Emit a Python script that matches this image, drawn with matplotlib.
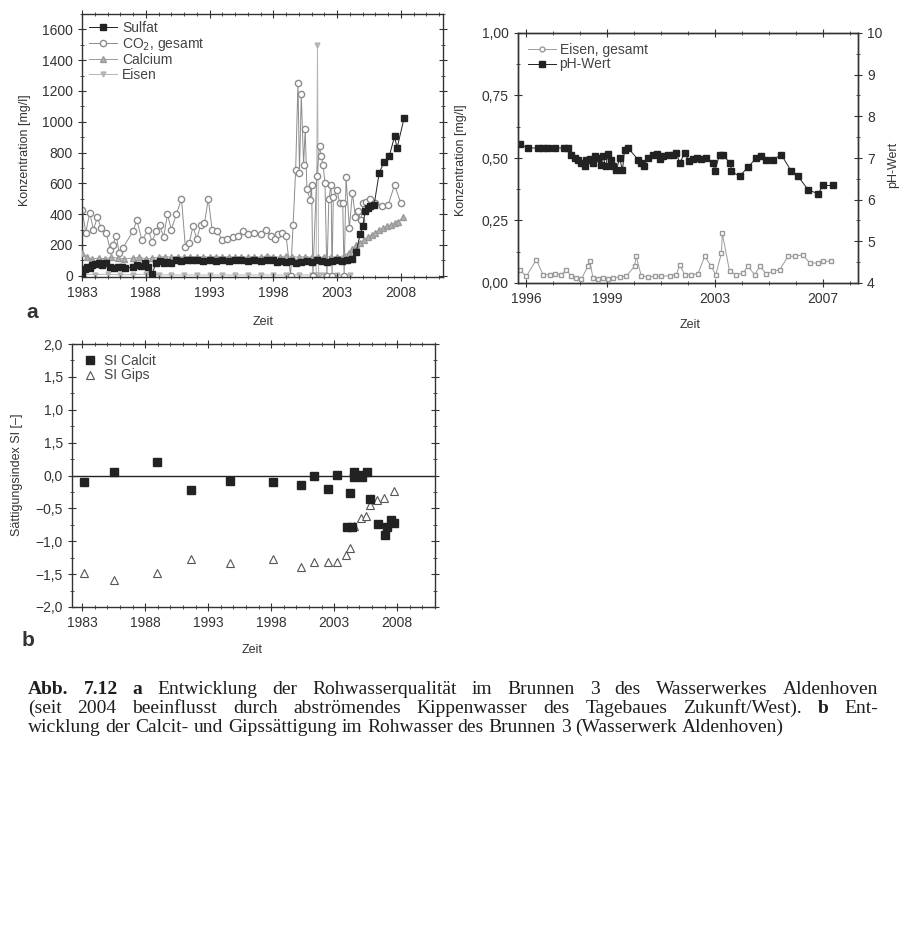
import matplotlib
matplotlib.use('Agg')
import matplotlib.pyplot as plt
from matplotlib.ticker import MultipleLocator

plt.rcParams['font.family'] = ['Liberation Sans', 'DejaVu Sans']

# ---- Bild a: Rohwasserqualitaet Brunnen 3 ----
sulfat_jahr = [1983.0, 1983.2, 1983.4, 1983.6, 1983.8, 1984.0, 1984.3, 1984.6, 1984.9, 1985.2,
               1985.5, 1985.8, 1986.1, 1986.4, 1987.0, 1987.3, 1987.6, 1987.9, 1988.2, 1988.5,
               1988.8, 1989.1, 1989.4, 1989.7, 1990.0, 1990.4, 1990.8, 1991.2, 1991.6, 1992.0,
               1992.5, 1993.0, 1993.5, 1994.0, 1994.5, 1995.0, 1995.5, 1996.0, 1996.5, 1997.0,
               1997.5, 1998.0, 1998.3, 1998.6, 1999.0, 1999.4, 1999.8, 2000.2, 2000.6, 2001.0,
               2001.4, 2001.8, 2002.2, 2002.6, 2003.0, 2003.4, 2003.8, 2004.2, 2004.5, 2004.8,
               2005.0, 2005.2, 2005.4, 2005.6, 2005.9, 2006.3, 2006.7, 2007.1, 2007.5, 2007.7,
               2008.26]
sulfat = [20, 45, 60, 50, 70, 75, 80, 70, 85, 60,
          50, 55, 60, 50, 55, 70, 65, 80, 60, 10,
          85, 95, 80, 90, 85, 100, 95, 100, 105, 100,
          95, 100, 95, 100, 95, 100, 100, 95, 100, 95,
          105, 100, 90, 95, 90, 95, 85, 90, 95, 90,
          100, 95, 90, 95, 100, 95, 105, 110, 155, 270,
          320, 420, 440, 450, 460, 670, 740, 780, 905, 830,
          1027]

co2_jahr = [1983.0, 1983.3, 1983.6, 1983.9, 1984.2, 1984.5, 1984.9, 1985.2, 1985.4, 1985.7,
            1985.9, 1986.2, 1987.0, 1987.3, 1987.7, 1988.2, 1988.5, 1988.8, 1989.1, 1989.4,
            1989.7, 1990.0, 1990.4, 1990.8, 1991.1, 1991.4, 1991.7, 1992.0, 1992.3, 1992.6,
            1992.9, 1993.2, 1993.6, 1994.0, 1994.4, 1994.8, 1995.2, 1995.6, 1996.0, 1996.5,
            1997.0, 1997.4, 1997.8, 1998.1, 1998.4, 1998.7, 1999.0, 1999.35, 1999.55, 1999.75,
            1999.93, 2000.05, 2000.19, 2000.37, 2000.5, 2000.63, 2000.89, 2001.0, 2001.1, 2001.4,
            2001.62, 2001.75, 2001.9, 2002.05, 2002.2, 2002.35, 2002.53, 2002.6, 2002.7, 2003.0,
            2003.2, 2003.44, 2003.55, 2003.7, 2003.96, 2004.2, 2004.43, 2004.65, 2004.85, 2005.05,
            2005.3, 2005.6, 2006.0, 2006.5, 2007.0, 2007.5, 2008.0]
co2 = [430, 280, 410, 300, 380, 310, 280, 170, 200, 260,
       150, 180, 290, 360, 230, 300, 220, 290, 330, 250,
       400, 300, 400, 500, 190, 210, 320, 240, 330, 340,
       500, 300, 290, 230, 240, 250, 260, 290, 270, 280,
       270, 300, 260, 240, 270, 280, 260, 0, 330, 690,
       1255, 670, 1180, 720, 955, 565, 490, 590, 0, 650,
       840, 780, 720, 600, 0, 500, 590, 0, 510, 555,
       470, 470, 0, 640, 310, 540, 380, 420, 360, 470,
       480, 500, 470, 450, 460, 590, 470]

calcium_jahr = [1983.0, 1983.4, 1983.8, 1984.3, 1984.8, 1985.3, 1985.8, 1986.3, 1987.0, 1987.5,
                1988.0, 1988.5, 1989.0, 1989.5, 1990.0, 1990.5, 1991.0, 1991.5, 1992.0, 1992.5,
                1993.0, 1993.5, 1994.0, 1994.5, 1995.0, 1995.5, 1996.0, 1996.5, 1997.0, 1997.5,
                1998.0, 1998.5, 1999.0, 1999.5, 2000.0, 2000.5, 2001.0, 2001.5, 2002.0, 2002.5,
                2003.0, 2003.5, 2003.9, 2004.2, 2004.5, 2004.8, 2005.1, 2005.4, 2005.7, 2006.0,
                2006.3, 2006.6, 2006.9, 2007.2, 2007.5, 2007.8, 2008.2]
calcium = [150, 120, 110, 115, 110, 120, 115, 110, 115, 120,
           110, 115, 120, 125, 120, 125, 120, 125, 120, 125,
           120, 125, 120, 125, 120, 125, 120, 125, 120, 130,
           125, 120, 130, 125, 120, 125, 120, 125, 120, 125,
           120, 130, 150, 175, 200, 215, 230, 250, 265, 280,
           295, 310, 320, 330, 340, 350, 380]

eisen_jahr = [1983.0, 1984.0, 1985.0, 1986.0, 1987.0, 1988.0, 1989.0, 1990.0, 1991.0, 1992.0,
              1993.0, 1994.0, 1995.0, 1996.0, 1997.0, 1998.0, 1999.0, 2000.0, 2001.0, 2001.35,
              2001.46, 2001.55, 2002.0, 2003.0, 2004.0]
eisen = [10, 8, 10, 6, 8, 10, 6, 5, 5, 5,
         5, 5, 5, 5, 5, 5, 5, 5, 5, 5,
         1500, 5, 5, 5, 5]

# ---- Bild rechts: Eisen und pH ----
ph_jahr = [1995.76, 1996.07, 1996.44, 1996.63, 1996.81, 1997.06, 1997.39, 1997.55, 1997.68, 1997.80,
           1997.92, 1998.05, 1998.17, 1998.23, 1998.36, 1998.48, 1998.54, 1998.66, 1998.79, 1998.85,
           1998.95, 1999.04, 1999.16, 1999.22, 1999.34, 1999.47, 1999.57, 1999.65, 1999.78, 2000.15,
           2000.27, 2000.36, 2000.52, 2000.70, 2000.85, 2000.95, 2001.07, 2001.26, 2001.44, 2001.57,
           2001.69, 2001.88, 2002.04, 2002.19, 2002.33, 2002.49, 2002.68, 2002.93, 2002.99, 2003.17,
           2003.30, 2003.57, 2003.61, 2003.91, 2004.22, 2004.53, 2004.72, 2004.90, 2005.15, 2005.46,
           2005.83, 2006.08, 2006.45, 2006.82, 2007.00, 2007.37]
ph = [7.34, 7.24, 7.24, 7.24, 7.24, 7.24, 7.24, 7.24, 7.06, 7.00,
      6.94, 6.88, 6.80, 6.96, 6.98, 6.88, 7.04, 7.00, 6.84, 7.04,
      6.80, 7.10, 6.96, 6.80, 6.70, 7.00, 6.70, 7.20, 7.24, 6.96,
      6.88, 6.80, 7.00, 7.06, 7.10, 6.98, 7.04, 7.06, 7.08, 7.12,
      6.88, 7.12, 6.92, 6.98, 7.00, 6.98, 7.00, 6.88, 6.68, 7.08,
      7.06, 6.88, 6.68, 6.56, 6.78, 7.00, 7.04, 6.96, 6.96, 7.08,
      6.68, 6.56, 6.24, 6.14, 6.34, 6.34]

fe_jahr = [1995.76, 1996.01, 1996.38, 1996.63, 1996.87, 1997.06, 1997.31, 1997.49, 1997.68, 1997.86,
           1998.05, 1998.29, 1998.36, 1998.48, 1998.66, 1998.85, 1999.04, 1999.22, 1999.47, 1999.71,
           2000.02, 2000.08, 2000.27, 2000.52, 2000.76, 2001.01, 2001.32, 2001.57, 2001.69, 2001.88,
           2002.12, 2002.37, 2002.62, 2002.86, 2003.03, 2003.24, 2003.27, 2003.54, 2003.79, 2004.04,
           2004.22, 2004.47, 2004.66, 2004.90, 2005.15, 2005.40, 2005.71, 2005.95, 2006.26, 2006.51,
           2006.82, 2007.00, 2007.31]
fe = [0.053, 0.027, 0.093, 0.033, 0.033, 0.037, 0.033, 0.053, 0.027, 0.020,
      0.016, 0.067, 0.087, 0.020, 0.016, 0.020, 0.016, 0.020, 0.024, 0.027,
      0.067, 0.107, 0.027, 0.024, 0.027, 0.027, 0.029, 0.033, 0.073, 0.033,
      0.033, 0.037, 0.107, 0.067, 0.033, 0.120, 0.200, 0.047, 0.033, 0.040,
      0.067, 0.033, 0.067, 0.037, 0.047, 0.053, 0.107, 0.107, 0.113, 0.080,
      0.080, 0.087, 0.087]

# ---- Bild b: Saettigungsindizes ----
calcit_jahr = [1983.13, 1985.51, 1988.95, 1991.65, 1994.72, 1998.13, 2000.33, 2001.39, 2002.53, 2003.24,
               2004.22, 2004.03, 2004.43, 2004.56, 2004.6, 2004.95, 2005.2, 2005.62, 2005.88, 2006.5,
               2007.07, 2007.47, 2007.73, 2007.2]
calcit = [-0.10, 0.05, 0.21, -0.22, -0.08, -0.10, -0.14, 0.0, -0.20, 0.01,
          -0.27, -0.78, -0.78, 0.05, -0.03, 0.01, -0.02, 0.06, -0.35, -0.74,
          -0.90, -0.68, -0.73, -0.78]
gips_jahr = [1983.13, 1985.51, 1988.95, 1991.65, 1994.72, 1998.13, 2000.33, 2001.39, 2002.53, 2003.24,
             2003.9, 2004.22, 2004.56, 2005.1, 2005.5, 2005.88, 2006.4, 2006.95, 2007.73]
gips = [-1.48, -1.59, -1.48, -1.27, -1.33, -1.27, -1.39, -1.31, -1.31, -1.31,
        -1.21, -1.10, -0.77, -0.65, -0.62, -0.45, -0.37, -0.34, -0.24]

jahre_a = [1983, 1988, 1993, 1998, 2003, 2008]
jahre_fe = [1996, 1999, 2003, 2007]
fe_ticks = ['0,00', '0,25', '0,50', '0,75', '1,00']
si_ticks = ['\u22122,0', '\u22121,5', '\u22121,0', '\u22120,5', '0,0', '1,5', '1,0', '1,5', '2,0']

INK = '#333333'
fig = plt.figure(figsize=(9.03, 9.31), dpi=100, facecolor='white')


def px_axes(l, t, r, b):
    return fig.add_axes([l / 903, 1 - b / 931, (r - l) / 903, (b - t) / 931])


def ftext(x, y, s, **kw):
    kw.setdefault('color', INK)
    return fig.text(x / 903, 1 - y / 931, s, **kw)


def style(ax, right=True):
    for s in ax.spines.values():
        s.set_linewidth(1.0)
        s.set_color(INK)
    ax.tick_params(which='both', direction='inout', colors=INK, labelsize=10,
                   top=True, right=right)
    ax.tick_params(which='major', length=6)
    ax.tick_params(which='minor', length=3)


# Bild a
ax_a = px_axes(82, 14, 443, 277)
ax_a.plot(eisen_jahr, eisen, '-v', color='#b5b5b5', lw=0.7, ms=3.5, mfc='#b5b5b5', label='Eisen', zorder=1)
ax_a.plot(co2_jahr, co2, '-o', color='#8c8c8c', lw=0.7, ms=4.5, mfc='white', label='CO$_2$, gesamt', zorder=2)
ax_a.plot(calcium_jahr, calcium, '-^', color='#9a9a9a', lw=0.7, ms=4, mfc='#b0b0b0', label='Calcium', zorder=3)
ax_a.plot(sulfat_jahr, sulfat, '-s', color='#222222', lw=0.7, ms=4, label='Sulfat', zorder=4)
ax_a.set_xlim(1983, 2011.3)
ax_a.set_ylim(-8, 1700)
ax_a.set_xticks(jahre_a)
ax_a.set_xticklabels([str(j) for j in jahre_a])
ax_a.xaxis.set_minor_locator(MultipleLocator(1))
ax_a.set_yticks(range(0, 1601, 200))
ax_a.yaxis.set_minor_locator(MultipleLocator(100))
style(ax_a)
h, l = ax_a.get_legend_handles_labels()
order = [3, 1, 2, 0]
ax_a.legend([h[i] for i in order], [l[i] for i in order], loc='upper left', frameon=False,
            fontsize=10, handlelength=2.0, handletextpad=0.4, labelspacing=0.05,
            borderaxespad=0.1, labelcolor='#444444')
ftext(25, 150, 'Konzentration [mg/l]', rotation=90, ha='center', va='center', fontsize=9)
ftext(263, 322, 'Zeit', ha='center', va='center', fontsize=9)
ftext(32, 313, 'a', ha='center', va='center', fontsize=15, fontweight='bold')

# Bild rechts: Eisen / pH
ax_fe = px_axes(518, 33, 858, 283)
ax_ph = ax_fe.twinx()
l1, = ax_fe.plot(fe_jahr, fe, '-s', color='#9a9a9a', lw=0.7, ms=3.5, mfc='white', label='Eisen, gesamt')
l2, = ax_ph.plot(ph_jahr, ph, '-s', color='#222222', lw=0.7, ms=3.8, label='pH-Wert')
ax_fe.set_xlim(1995.7, 2008.3)
ax_fe.set_ylim(0, 1)
ax_ph.set_ylim(4, 10)
ax_fe.set_xticks(jahre_fe)
ax_fe.set_xticklabels([str(j) for j in jahre_fe])
ax_fe.xaxis.set_minor_locator(MultipleLocator(1))
ax_fe.set_yticks([0, 0.25, 0.5, 0.75, 1.0])
ax_fe.set_yticklabels(fe_ticks)
ax_fe.yaxis.set_minor_locator(MultipleLocator(0.125))
ax_ph.yaxis.set_minor_locator(MultipleLocator(0.5))
style(ax_fe, right=False)
style(ax_ph)
ax_ph.tick_params(which='both', left=False, top=False)
l1.set_marker('o')
leg = ax_fe.legend([l1, l2], ['Eisen, gesamt', 'pH-Wert'], loc='upper left', frameon=False,
                   fontsize=10, handlelength=2.0, handletextpad=0.3, labelspacing=0.05,
                   borderaxespad=0.3, labelcolor='#444444')
l1.set_marker('s')
ftext(461, 160, 'Konzentration [mg/l]', rotation=90, ha='center', va='center', fontsize=9)
ftext(893, 165, 'pH-Wert', rotation=90, ha='center', va='center', fontsize=9)
ftext(690, 325, 'Zeit', ha='center', va='center', fontsize=9)

# Bild b
ax_b = px_axes(72, 344, 435, 607)
ax_b.axhline(0, color='#222222', lw=1.0, zorder=1)
ax_b.plot(calcit_jahr, calcit, 's', color='#222222', ms=5.5, ls='none', label='SI Calcit', zorder=3)
ax_b.plot(gips_jahr, gips, '^', color='#555555', ms=6, mfc='white', mew=0.8, ls='none',
          label='SI Gips', zorder=2)
ax_b.set_xlim(1982.2, 2011.0)
ax_b.set_ylim(-2, 2)
ax_b.set_xticks(jahre_a)
ax_b.set_xticklabels([str(j) for j in jahre_a])
ax_b.xaxis.set_minor_locator(MultipleLocator(1))
ax_b.set_yticks([-2, -1.5, -1, -0.5, 0, 0.5, 1, 1.5, 2])
ax_b.set_yticklabels(si_ticks)
ax_b.yaxis.set_minor_locator(MultipleLocator(0.25))
style(ax_b)
ax_b.legend(loc='upper left', frameon=False, fontsize=10, handlelength=1.2, handletextpad=0.4,
            labelspacing=0.05, borderaxespad=0.3, labelcolor='#444444')
ftext(17, 475, 'S\u00e4ttigungsindex SI [\u2013]', rotation=90, ha='center', va='center', fontsize=9)
ftext(252, 650, 'Zeit', ha='center', va='center', fontsize=9)
ftext(28, 641, 'b', ha='center', va='center', fontsize=15, fontweight='bold')

# Bildunterschrift, Blocksatz
renderer = fig.canvas.get_renderer()
CAP_SIZE = 14.0


def caption_line(y, parts, x0=28, x1=None):
    words = []
    for text, bold in parts:
        for w in text.split():
            words.append((w, bold))
    objs = [ftext(0, y, w, fontsize=CAP_SIZE, family=['Liberation Serif'], va='baseline',
                  fontweight='bold' if b else 'normal', color='#1e1e1e') for w, b in words]
    widths = [t.get_window_extent(renderer).width for t in objs]
    if x1 is None:
        gap = CAP_SIZE * 0.25 * 100 / 72
    else:
        gap = (x1 - x0 - sum(widths)) / (len(objs) - 1)
    x = x0
    for t, w in zip(objs, widths):
        t.set_x(x / 903)
        x += w + gap


caption_line(694, [('Abb. 7.12 a', True),
                   ('Entwicklung der Rohwasserqualit\u00e4t im Brunnen 3 des Wasserwerkes Aldenhoven', False)],
             x1=878)
caption_line(713, [('(seit 2004 beeinflusst durch abstr\u00f6mendes Kippenwasser des Tagebaues Zukunft/West).', False),
                   ('b', True), ('Ent-', False)], x1=878)
caption_line(732, [('wicklung der Calcit- und Gipss\u00e4ttigung im Rohwasser des Brunnen 3 (Wasserwerk Aldenhoven)', False)])

fig.savefig('out.png', dpi=100, facecolor='white')
